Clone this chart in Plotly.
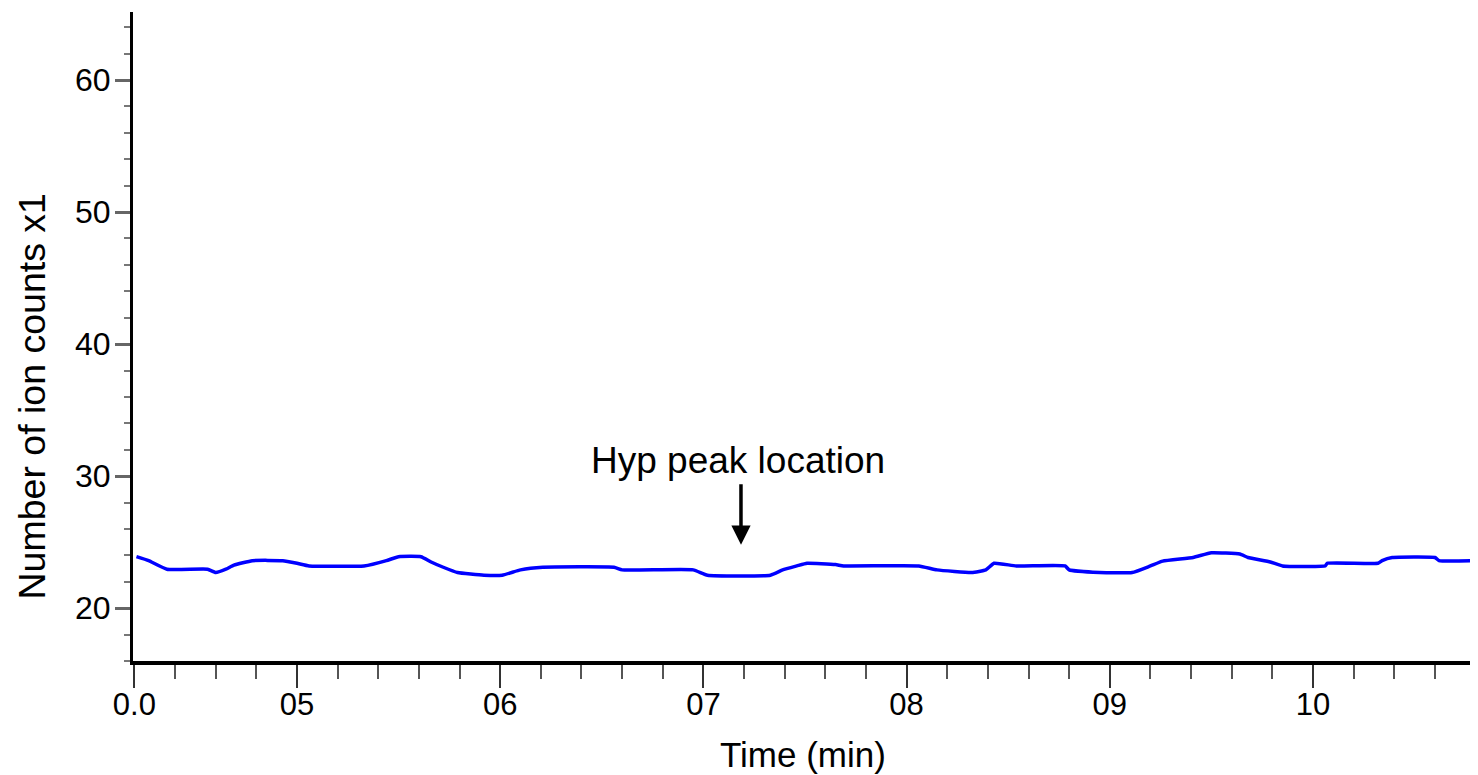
import numpy as np
import plotly.graph_objects as go

# ---- data ----
time_min = [4.21, 4.27, 4.36, 4.56, 4.60, 4.65, 4.69, 4.78, 4.93, 5.00, 5.06, 5.33,
            5.44, 5.50, 5.61, 5.66, 5.72, 5.79, 5.92, 6.01, 6.10, 6.21, 6.56, 6.60,
            6.95, 7.02, 7.33, 7.39, 7.46, 7.51, 7.65, 7.69, 8.06, 8.15, 8.32, 8.39,
            8.43, 8.54, 8.78, 8.80, 8.95, 9.11, 9.20, 9.26, 9.41, 9.50, 9.64, 9.68,
            9.79, 9.85, 10.06, 10.07, 10.32, 10.34, 10.39, 10.60, 10.62, 10.82]
ion_counts = [23.9, 23.6, 22.95, 22.95, 22.7, 22.95, 23.26, 23.6, 23.6, 23.4, 23.2, 23.2,
              23.6, 23.9, 23.9, 23.5, 23.1, 22.7, 22.5, 22.5, 22.9, 23.1, 23.1, 22.9,
              22.9, 22.5, 22.5, 22.9, 23.2, 23.4, 23.3, 23.2, 23.2, 22.9, 22.7, 22.9,
              23.4, 23.2, 23.2, 22.9, 22.7, 22.7, 23.2, 23.56, 23.84, 24.2, 24.1, 23.84,
              23.5, 23.2, 23.2, 23.4, 23.4, 23.6, 23.84, 23.84, 23.6, 23.6]

x_tick_vals = [4.2, 5, 6, 7, 8, 9, 10]
x_tick_text = ["0.0", "05", "06", "07", "08", "09", "10"]
y_tick_vals = [20, 30, 40, 50, 60]

peak_time = 7.185
peak_label = "Hyp peak location"
x_title = "Time (min)"
y_title = "Number of ion counts x1"

FONT = "Liberation Sans, Arial, sans-serif"

# the page body adds an 8 px offset, so the figure is sized to end at the window edge
OFF = 8
W, H = 1478 - OFF, 775 - OFF
ML, MR, MT, MB = 133 - OFF, 0, 12 - OFF, 775 - 661
PW, PH = W - ML - MR, H - MT - MB

def px_to_paper_x(page_x):
    return (page_x - OFF - ML) / PW

def px_to_paper_y(page_y):
    return (H - MB - (page_y - OFF)) / PH

fig = go.Figure()
fig.add_trace(go.Scatter(x=time_min, y=ion_counts, mode="lines",
                         line=dict(color="#0000FF", width=3.5, shape="spline", smoothing=0.4),
                         showlegend=False))

x_minor = [v for v in np.round(np.arange(4.2, 10.9, 0.2), 2) if v not in x_tick_vals]
y_minor = [v for v in range(16, 66, 2) if v not in y_tick_vals]

fig.update_xaxes(range=[4.193, 10.812], tickmode="array", tickvals=x_tick_vals,
                 ticktext=x_tick_text, ticks="outside", ticklen=23, tickwidth=2,
                 tickcolor="#333", showline=True, linecolor="black", linewidth=4,
                 showgrid=False, zeroline=False, automargin=False,
                 ticklabelstandoff=-10,
                 tickfont=dict(family=FONT, size=31, color="black"),
                 minor=dict(tickmode="array", tickvals=x_minor, ticks="outside",
                            ticklen=14, tickwidth=2, tickcolor="#555"))
fig.update_yaxes(range=[16, 65.15], tickmode="array", tickvals=y_tick_vals,
                 ticks="outside", ticklen=15, tickwidth=3, tickcolor="#666",
                 showline=True, linecolor="black", linewidth=3,
                 showgrid=False, zeroline=False, automargin=False,
                 ticklabelstandoff=-2,
                 tickfont=dict(family=FONT, size=32, color="black"),
                 minor=dict(tickmode="array", tickvals=y_minor, ticks="outside",
                            ticklen=6, tickwidth=2, tickcolor="#777"))

# arrow
fig.add_annotation(x=peak_time, y=24.8, ax=peak_time, ay=29.5, xref="x", yref="y",
                   axref="x", ayref="y", text="", showarrow=True, arrowhead=2,
                   arrowsize=1.1, arrowwidth=3.5, arrowcolor="black", standoff=0)
fig.add_annotation(x=7.17, y=31.22, xref="x", yref="y", text=peak_label, showarrow=False,
                   xanchor="center", yanchor="middle",
                   font=dict(family=FONT, size=37, color="black"))
# axis titles
fig.add_annotation(x=px_to_paper_x(32), y=px_to_paper_y(396.5), xref="paper", yref="paper",
                   text=y_title, showarrow=False, textangle=-90,
                   xanchor="center", yanchor="middle",
                   font=dict(family=FONT, size=37.5, color="black"))
fig.add_annotation(x=px_to_paper_x(803), y=px_to_paper_y(733), xref="paper", yref="paper",
                   text=x_title, showarrow=False, xanchor="center", yanchor="top",
                   font=dict(family=FONT, size=35, color="black"))

fig.update_layout(width=W, height=H, margin=dict(l=ML, r=MR, t=MT, b=MB),
                  paper_bgcolor="white", plot_bgcolor="white")

fig.write_html("out.html")
